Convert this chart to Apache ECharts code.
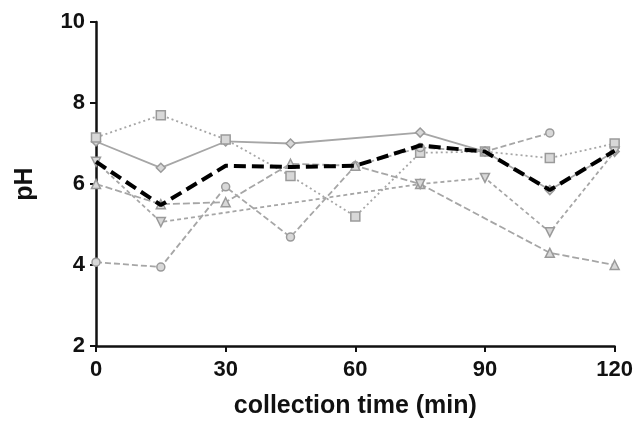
<!DOCTYPE html>
<html>
<head>
<meta charset="utf-8">
<script src="https://cdn.jsdelivr.net/npm/echarts@6/dist/echarts.min.js"></script>
<style>
  html, body { margin: 0; padding: 0; background: #fff; }
  #chart { width: 636px; height: 424px; }
</style>
</head>
<body>
<div id="chart"></div>
<script>
// collection times (min)
var times = [0, 15, 30, 45, 60, 75, 90, 105, 120];
// pH per subject, null = no sample
var phDiamond = [7.05, 6.4, 7.05, 7.0, null, 7.27, 6.8, 5.85, 6.8];
var phSquare = [7.15, 7.7, 7.1, 6.2, 5.2, 6.77, 6.8, 6.64, 7.0];
var phCircle = [4.07, 3.95, 5.93, 4.69, 6.45, 6.9, 6.8, 7.26, null];
var phTriUp = [6.0, 5.5, 5.55, 6.5, 6.45, 6.0, null, 4.3, 4.0];
var phTriDown = [6.55, 5.06, null, null, null, 6.0, 6.15, 4.81, 6.8];
var phMedian = [6.55, 5.48, 6.45, 6.42, 6.45, 6.95, 6.8, 5.85, 6.82];
var xTicks = [0, 30, 60, 90, 120];
var yTicks = [2, 4, 6, 8, 10];

function pairs(vals) {
  return times.map(function (t, i) { return [t, vals[i]]; });
}

var gray = '#a6a6a6';
function subject(vals, symbol, dash, rotate) {
  return {
    type: 'line',
    data: pairs(vals),
    connectNulls: true,
    symbol: symbol,
    symbolSize: symbol === 'circle' ? 8 : 9,
    symbolRotate: rotate || 0,
    lineStyle: { color: gray, width: 1.8, type: dash },
    itemStyle: { color: '#d8d8d8', borderColor: '#9a9a9a', borderWidth: 1.5 },
    animation: false,
    z: 2
  };
}

var font = 'Liberation Sans';
var chart = echarts.init(document.getElementById('chart'));
chart.setOption({
  backgroundColor: '#fff',
  grid: { left: 96, right: 19, top: 22, bottom: 78 },
  xAxis: {
    type: 'value', min: 0, max: 120, interval: 30,
    name: 'collection time (min)', nameLocation: 'middle', nameGap: 48,
    nameTextStyle: { fontFamily: font, fontWeight: 'bold', fontSize: 25, color: '#111' },
    axisLine: { show: true, lineStyle: { color: '#111', width: 2.5 } },
    axisTick: { show: true, length: 6, lineStyle: { color: '#111', width: 2 } },
    axisLabel: {
      margin: 13, fontFamily: font, fontWeight: 'bold', fontSize: 22, color: '#111',
      formatter: function (v) { return xTicks.indexOf(v) >= 0 ? String(v) : ''; }
    },
    splitLine: { show: false }
  },
  yAxis: {
    type: 'value', min: 2, max: 10, interval: 2,
    name: 'pH', nameLocation: 'middle', nameGap: 58, nameRotate: 90,
    nameTextStyle: { fontFamily: font, fontWeight: 'bold', fontSize: 25, color: '#111' },
    axisLine: { show: true, lineStyle: { color: '#111', width: 2.5 } },
    axisTick: { show: true, length: 6, lineStyle: { color: '#111', width: 2 } },
    axisLabel: {
      margin: 11, fontFamily: font, fontWeight: 'bold', fontSize: 22, color: '#111',
      formatter: function (v) { return yTicks.indexOf(v) >= 0 ? String(v) : ''; }
    },
    splitLine: { show: false }
  },
  series: [
    subject(phDiamond, 'diamond', 'solid'),
    subject(phSquare, 'rect', [2, 3]),
    subject(phCircle, 'circle', [6, 3]),
    subject(phTriUp, 'triangle', [7, 3]),
    subject(phTriDown, 'triangle', [4, 3], 180),
    {
      type: 'line',
      data: pairs(phMedian),
      symbol: 'none',
      lineStyle: { color: '#000', width: 4, type: [12, 6] },
      animation: false,
      z: 5
    }
  ]
});
</script>
</body>
</html>
